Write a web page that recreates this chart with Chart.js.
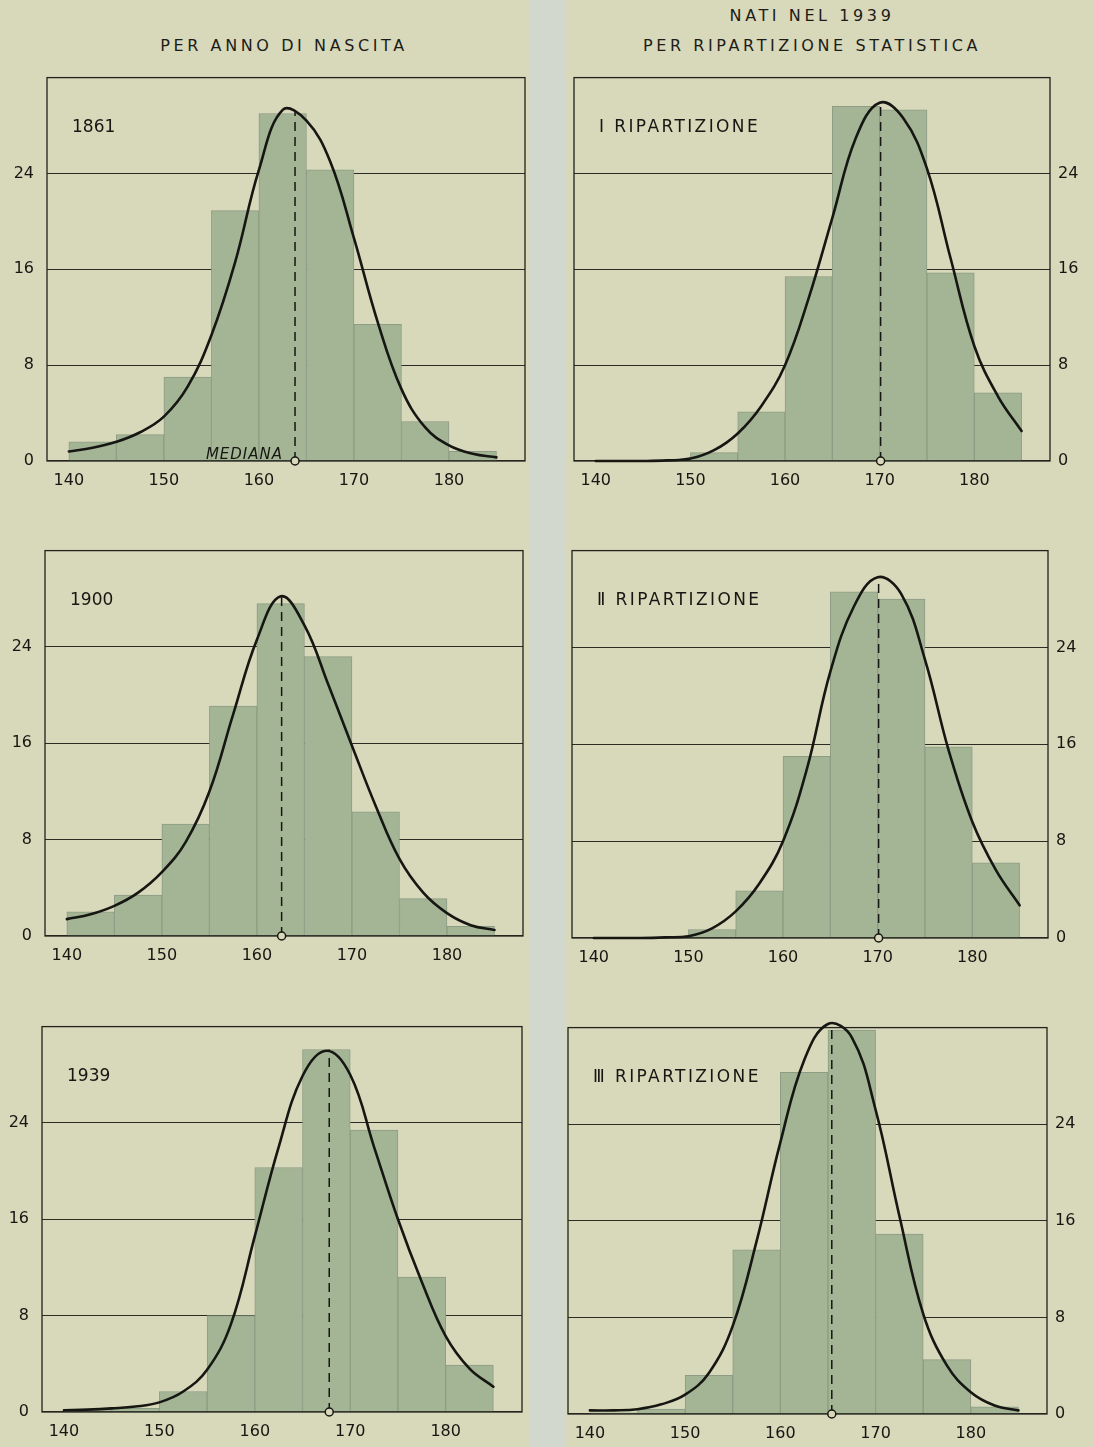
<!DOCTYPE html>
<html>
<head>
<meta charset="utf-8">
<script src="https://cdn.jsdelivr.net/npm/chart.js@4.4.1/dist/chart.umd.min.js"></script>
<style>
    body { margin: 0; background: #d8d8bb; }
    #page { position: relative; width: 1094px; height: 1447px; overflow: hidden; background: #d8d8bb; }
    .strip { position: absolute; left: 530px; top: 0; width: 36px; height: 1447px; background: #d2d8cd; }
    .title { position: absolute; font-family: "DejaVu Sans", sans-serif; font-size: 16px; line-height: 18px;
             letter-spacing: 3.6px; color: #1c1c17; text-align: center; white-space: nowrap; }
    canvas { position: absolute; }
</style>
</head>
<body>
<div id="page">
    <div class="strip"></div>
    <div class="title" style="left:84px; top:37px; width:400px;">PER ANNO DI NASCITA</div>
    <div class="title" style="left:612px; top:7px; width:400px;">NATI NEL 1939</div>
    <div class="title" style="left:562px; top:37px; width:500px;">PER RIPARTIZIONE STATISTICA</div>
</div>
<script>
// classes of 5 cm: 140-145 ... 180-185 (bar centres)
const binCenters = [142.5, 147.5, 152.5, 157.5, 162.5, 167.5, 172.5, 177.5, 182.5];
const xTicks = [140, 150, 160, 170, 180];
const yTicks = [0, 8, 16, 24];

// per cent of conscripts in each class
const bars1861 = [1.6, 2.2, 7.0, 20.9, 29.0, 24.3, 11.4, 3.3, 0.8];
const bars1900 = [2.0, 3.4, 9.3, 19.1, 27.6, 23.2, 10.3, 3.1, 0.8];
const bars1939 = [0.2, 0.3, 1.7, 8.0, 20.3, 30.1, 23.4, 11.2, 3.9];
const barsRip1 = [0, 0, 0.7, 4.1, 15.4, 29.6, 29.3, 15.7, 5.7];
const barsRip2 = [0, 0, 0.7, 3.9, 15.0, 28.6, 28.0, 15.8, 6.2];
const barsRip3 = [0.1, 0.4, 3.2, 13.6, 28.3, 31.8, 14.9, 4.5, 0.6];

// fitted curves, read every 2.5 cm from 140 to 185
const curveX = [140, 142.5, 145, 147.5, 150, 152.5, 155, 157.5, 160, 162.5, 165, 167.5, 170, 172.5, 175, 177.5, 180, 182.5, 185];
const curve1861 = [0.8, 1.1, 1.6, 2.4, 3.7, 6.2, 10.5, 16.6, 24.3, 29.3, 28.4, 25.0, 18.6, 11.6, 6.0, 2.8, 1.3, 0.6, 0.3];
const curve1900 = [1.4, 1.8, 2.5, 3.6, 5.3, 7.8, 12.0, 18.4, 24.6, 28.2, 25.8, 20.9, 15.8, 10.8, 6.4, 3.6, 1.9, 0.9, 0.5];
const curve1939 = [0.15, 0.2, 0.3, 0.45, 0.8, 1.7, 3.5, 7.3, 14.6, 22.0, 27.9, 30.0, 28.0, 22.0, 16.0, 10.8, 6.3, 3.6, 2.1];
const curveRip1 = [0, 0, 0, 0.05, 0.2, 0.9, 2.3, 4.6, 8.0, 13.6, 20.3, 27.0, 29.9, 28.6, 24.4, 16.9, 9.6, 5.4, 2.5];
const curveRip2 = [0, 0, 0, 0.05, 0.15, 0.8, 2.2, 4.5, 8.0, 13.9, 22.0, 27.4, 29.8, 28.4, 23.0, 15.5, 9.6, 5.6, 2.7];
const curveRip3 = [0.3, 0.3, 0.4, 0.8, 1.6, 3.4, 7.3, 14.3, 22.5, 29.3, 32.3, 31.2, 25.2, 16.4, 8.3, 4.0, 1.8, 0.7, 0.3];

// median (x) and height of the dashed line
const medians = [163.8, 170.1, 162.6, 170.1, 167.8, 165.4];
const medianTops = [29.3, 30.0, 28.2, 29.7, 30.1, 32.4];

const panelLabels = ["1861", "\u2160 RIPARTIZIONE", "1900", "\u2161 RIPARTIZIONE", "1939", "\u2162 RIPARTIZIONE"];

const panels = [
    { box: [47, 78, 525, 462], side: "left", bars: bars1861, curve: curve1861, mediana: true },
    { box: [574, 78, 1050, 462], side: "right", bars: barsRip1, curve: curveRip1 },
    { box: [45, 551, 523, 937], side: "left", bars: bars1900, curve: curve1900 },
    { box: [572, 551, 1048, 939], side: "right", bars: barsRip2, curve: curveRip2 },
    { box: [42, 1027, 522, 1413], side: "left", bars: bars1939, curve: curve1939 },
    { box: [568, 1028, 1047, 1415], side: "right", bars: barsRip3, curve: curveRip3 },
];

const BG = "#d8d8bb";
const INK = "#161612";
const FONT = "DejaVu Sans";

const panelPlugin = {
    id: "panelDecor",
    afterDatasetDraw(chart, args) {
        if (args.index !== 0) return;
        const a = chart.chartArea;
        const ctx = chart.ctx;
        ctx.save();
        ctx.strokeStyle = "#23231c";
        ctx.lineWidth = 1.3;
        ctx.strokeRect(a.left, a.top, a.right - a.left, a.bottom - a.top);
        ctx.restore();
    },
    afterDraw(chart) {
        const o = chart.options.plugins.panelDecor;
        const a = chart.chartArea;
        const ctx = chart.ctx;
        ctx.save();
        ctx.fillStyle = INK;
        ctx.font = "17px '" + FONT + "'";
        ctx.textBaseline = "alphabetic";
        if (o.label.indexOf("RIPARTIZIONE") >= 0) ctx.letterSpacing = "2.4px";
        ctx.fillText(o.label, a.left + 25, a.top + 54);
        ctx.letterSpacing = "0px";
        if (o.mediana) {
            const mx = chart.scales.x.getPixelForValue(o.median);
            ctx.font = "italic 15px '" + FONT + "'";
            ctx.letterSpacing = "1px";
            ctx.textAlign = "right";
            ctx.fillText("MEDIANA", mx - 12, a.bottom - 2);
        }
        ctx.restore();
    }
};

function makeChart(p, i, w, h) {
    const cv = document.createElement("canvas");
    cv.width = w;
    cv.height = h;
    document.getElementById("page").appendChild(cv);
    const chart = new Chart(cv, {
        type: "bar",
        data: {
            datasets: [
                {
                    type: "bar",
                    data: binCenters.map((x, k) => ({ x: x, y: p.bars[k] })),
                    backgroundColor: "#a4b596",
                    borderColor: "#8d9c83",
                    borderWidth: 1,
                    barPercentage: 1,
                    categoryPercentage: 1,
                    order: 3,
                },
                {
                    type: "line",
                    data: [{ x: medians[i], y: 0 }, { x: medians[i], y: medianTops[i] }],
                    borderColor: INK,
                    borderWidth: 1.5,
                    borderDash: [9, 6],
                    pointRadius: [4, 0],
                    pointBackgroundColor: BG,
                    pointBorderColor: INK,
                    pointBorderWidth: 1.5,
                    clip: false,
                    order: 2,
                },
                {
                    type: "line",
                    data: curveX.map((x, k) => ({ x: x, y: p.curve[k] })),
                    borderColor: INK,
                    borderWidth: 2.6,
                    borderCapStyle: "round",
                    tension: 0.4,
                    pointRadius: 0,
                    clip: false,
                    order: 1,
                },
            ],
        },
        options: {
            responsive: false,
            maintainAspectRatio: false,
            animation: false,
            devicePixelRatio: 1,
            layout: {
                padding: p.side === "left" ? { top: 14, right: 50, left: 0, bottom: 0 } : { top: 14, left: 50, right: 0, bottom: 0 },
            },
            plugins: {
                legend: { display: false },
                tooltip: { enabled: false },
                panelDecor: { label: panelLabels[i], mediana: !!p.mediana, median: medians[i] },
            },
            scales: {
                x: {
                    type: "linear",
                    offset: false,
                    min: 137.7,
                    max: 188,
                    afterBuildTicks: (s) => { s.ticks = xTicks.map((v) => ({ value: v })); },
                    afterFit: (s) => { s.height = 40; },
                    grid: { display: false, drawTicks: false, offset: false },
                    border: { display: false },
                    ticks: { padding: 10, color: INK, font: { family: FONT, size: 16 }, maxRotation: 0 },
                },
                y: {
                    position: p.side,
                    min: 0,
                    max: 32,
                    afterBuildTicks: (s) => { s.ticks = yTicks.map((v) => ({ value: v })); },
                    afterFit: (s) => { s.width = 50; },
                    grid: { color: "#2b2b23", lineWidth: 1.1, drawTicks: false },
                    border: { display: false },
                    ticks: { padding: p.side === "left" ? 13 : 8, color: INK, font: { family: FONT, size: 16 } },
                },
            },
        },
        plugins: [panelPlugin],
    });
    return { cv, chart };
}

panels.forEach((p, i) => {
    const [l, t, r, b] = p.box;
    let w = r - l + 100;
    let h = b - t + 14 + 40;
    // first pass: measure where the plot area ends up, then rebuild at the right size
    let made = makeChart(p, i, w, h);
    let a = made.chart.chartArea;
    const dw = (r - l) - (a.right - a.left);
    const dh = (b - t) - (a.bottom - a.top);
    made.chart.destroy();
    made.cv.remove();
    made = makeChart(p, i, w + dw, h + dh);
    a = made.chart.chartArea;
    made.cv.style.left = (l - a.left) + "px";
    made.cv.style.top = (t - a.top) + "px";
});
</script>
</body>
</html>
